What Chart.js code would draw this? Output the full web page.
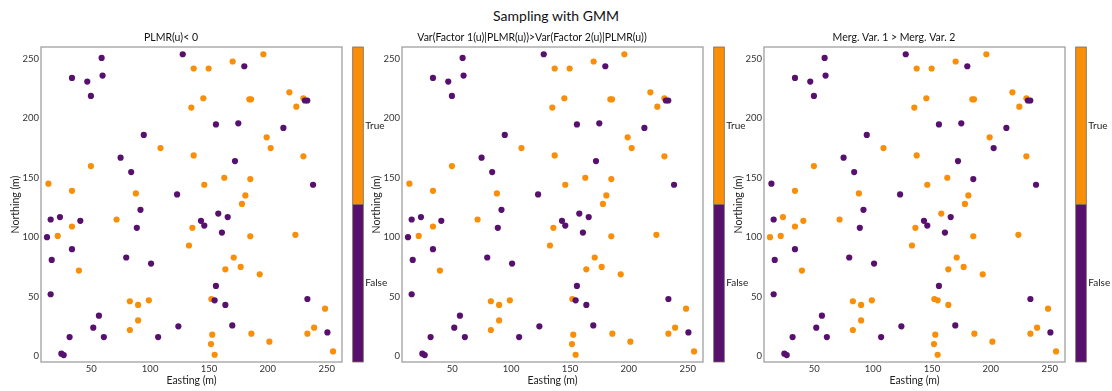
<!DOCTYPE html>
<html>
<head>
<meta charset="utf-8">
<script src="https://cdn.jsdelivr.net/npm/chart.js@4.4.0/dist/chart.umd.min.js"></script>
<style>
  html, body { margin: 0; padding: 0; background: #fff; overflow: hidden; }
  body { width: 1112px; height: 391px; position: relative; font-family: Lato, sans-serif; }
  #suptitle { position: absolute; left: 0; width: 1112px; top: 7px; text-align: center; font-size: 14px; color: #111; }
  canvas { position: absolute; top: 0; }
</style>
</head>
<body>
<div id="suptitle">Sampling with GMM</div>
<canvas id="p1" width="390" height="391" style="left:0px"></canvas>
<canvas id="p2" width="390" height="391" style="left:361px"></canvas>
<canvas id="p3" width="390" height="391" style="left:723px"></canvas>
<script>
const eastings = [58.8, 127.7, 137, 33.6, 46.6, 59.6, 49.7, 135, 145.2, 94.6,
  108.8, 137, 74.9, 49.7, 83.9, 13.6, 33.6, 87.9, 122.9, 146,
  91.8, 15.5, 23.4, 40.7, 33.6, 71.5, 88.7, 143.2, 146, 135.9,
  133, 12.4, 21.5, 33.6, 16.4, 79.7, 100.8, 39.5, 15.5, 82.8,
  89.8, 98.9, 56.5, 51.7, 89.8, 82.8, 124, 31.6, 60.7, 106.8,
  24.6, 26.6, 196.2, 170.1, 180, 149.7, 218.3, 230.2, 231.5, 233.5,
  184.3, 185.7, 224.2, 155.9, 174.9, 213.2, 199, 202.4, 230.2, 172.1,
  163, 185.1, 238.4, 180.9, 178, 157.9, 165.9, 161, 185.1, 223.4,
  171, 163.9, 176.9, 193.1, 155.9, 152, 154.8, 163.9, 233.6, 248.6,
  169.8, 239.3, 152.8, 186, 233.6, 250.6, 151.7, 201.3, 154.8, 255.4]
const northings = [250.8, 253.9, 241.9, 234, 230.9, 236, 218.8, 209, 216.9, 186,
  175, 168.8, 166.9, 159.8, 154.8, 145, 139, 136.8, 136, 144.1,
  123, 114.9, 116.9, 113.8, 109, 114.9, 107.9, 113.8, 109.8, 107.9,
  93, 100, 101.1, 89.9, 80.9, 82.9, 77.8, 71.9, 52, 46.1,
  43, 46.9, 34, 23.9, 30, 21.9, 25, 16, 16, 16,
  2, 0.8, 253.9, 247.8, 243.8, 241.9, 221.9, 216.9, 215, 215,
  216, 216, 209.8, 194.9, 195.8, 191.9, 184, 175, 168, 164,
  150, 148.9, 144.1, 135.1, 128, 119.9, 116.9, 103.9, 100.8, 102,
  82.9, 73, 75, 68.8, 59, 48, 46.9, 43, 48, 39.9,
  25.8, 23.9, 18, 18.8, 18.8, 19.9, 10.1, 12.1, 1.1, 3.9]

// 1 = True, 0 = False
const plmrNeg = [0, 0, 1, 0, 0, 0, 0, 1, 1, 0,
  1, 1, 0, 1, 0, 1, 1, 1, 0, 1,
  0, 0, 0, 0, 1, 1, 0, 0, 0, 1,
  1, 0, 1, 0, 0, 0, 0, 1, 0, 1,
  1, 1, 0, 0, 1, 1, 0, 0, 0, 0,
  0, 0, 1, 1, 0, 1, 1, 1, 0, 0,
  1, 1, 1, 0, 0, 0, 1, 1, 1, 0,
  1, 1, 0, 1, 1, 0, 0, 0, 1, 1,
  1, 1, 1, 1, 0, 1, 0, 0, 0, 1,
  0, 1, 1, 1, 1, 0, 1, 1, 1, 1]
const varFactor = [0, 0, 1, 0, 0, 0, 0, 1, 1, 0,
  1, 1, 0, 1, 0, 1, 1, 1, 0, 1,
  0, 0, 0, 0, 1, 1, 0, 0, 0, 1,
  1, 0, 1, 0, 0, 0, 0, 1, 0, 1,
  1, 1, 0, 0, 1, 1, 0, 0, 0, 0,
  0, 0, 1, 1, 0, 1, 1, 1, 0, 0,
  1, 1, 1, 0, 0, 0, 1, 1, 1, 0,
  1, 1, 0, 1, 1, 0, 0, 0, 1, 1,
  1, 1, 1, 1, 0, 1, 0, 0, 0, 1,
  0, 1, 1, 1, 1, 0, 1, 1, 1, 1]
const mergVar = [0, 0, 1, 0, 0, 0, 0, 1, 1, 0,
  1, 1, 0, 1, 0, 0, 1, 1, 0, 1,
  0, 0, 1, 1, 1, 1, 0, 0, 0, 1,
  1, 1, 1, 0, 0, 0, 0, 1, 0, 1,
  1, 1, 0, 0, 1, 1, 0, 0, 0, 0,
  0, 0, 1, 1, 0, 1, 1, 1, 0, 0,
  1, 1, 1, 0, 0, 0, 1, 0, 1, 0,
  1, 0, 0, 1, 1, 1, 0, 0, 1, 1,
  1, 1, 1, 1, 0, 1, 1, 1, 0, 1,
  0, 1, 1, 1, 1, 0, 1, 1, 1, 1]

const xTicks = [50, 100, 150, 200, 250]
const yTicks = [0, 50, 100, 150, 200, 250]
const classLabels = ["False", "True"]

const PURPLE = "#57106e"
const ORANGE = "#f98e09"
const FONT = "Lato, sans-serif"

// frame + two-colour colorbar on the right
const framePlugin = {
  id: "frame",
  afterDraw(chart) {
    const { ctx, chartArea: a } = chart
    ctx.save()
    ctx.strokeStyle = "#a0a0a0"
    ctx.lineWidth = 1.3
    ctx.strokeRect(a.left, a.top, a.right - a.left, a.bottom - a.top)

    const x = a.right + 10.7, w = 10.6
    const mid = (a.top + a.bottom) / 2
    ctx.fillStyle = ORANGE
    ctx.fillRect(x, a.top, w, mid - a.top)
    ctx.fillStyle = PURPLE
    ctx.fillRect(x, mid, w, a.bottom - mid)
    ctx.strokeStyle = "#7a6a5a"
    ctx.lineWidth = 0.8
    ctx.strokeRect(x, a.top, w, a.bottom - a.top)
    ctx.beginPath()
    ctx.moveTo(x, mid); ctx.lineTo(x + w, mid); ctx.stroke()

    ctx.fillStyle = "#222"
    ctx.font = "10px " + FONT
    ctx.textAlign = "left"
    ctx.textBaseline = "middle"
    ctx.fillText(classLabels[1], x + w + 2, a.top + (mid - a.top) / 2)
    ctx.fillText(classLabels[0], x + w + 2, mid + (a.bottom - mid) / 2)
    ctx.restore()
  }
}

function makePanel(id, title, classes) {
  const points = eastings.map((x, i) => ({ x: x, y: northings[i] }))
  new Chart(document.getElementById(id), {
    type: "scatter",
    data: {
      datasets: [{
        data: points,
        pointBackgroundColor: classes.map(c => c ? ORANGE : PURPLE),
        pointBorderWidth: 0,
        pointRadius: 3.1
      }]
    },
    options: {
      responsive: false,
      animation: false,
      layout: { padding: { left: 0, right: 48, top: 0, bottom: 0 } },
      plugins: {
        legend: { display: false },
        tooltip: { enabled: false },
        title: {
          display: true,
          text: title,
          color: "#111",
          font: { family: FONT, size: 10.5, weight: "normal" },
          padding: { top: 31.5, bottom: 2.9 }
        }
      },
      scales: {
        x: {
          type: "linear",
          min: 7.3,
          max: 263,
          grid: { display: false, drawTicks: false },
          border: { display: false },
          afterBuildTicks: s => { s.ticks = xTicks.map(v => ({ value: v })) },
          afterFit: s => { s.height = 29 },
          ticks: { color: "#333", font: { family: FONT, size: 9.5 }, padding: 1.5, maxRotation: 0 },
          title: {
            display: true,
            text: "Easting (m)",
            color: "#222",
            font: { family: FONT, size: 10.5 },
            padding: { top: 0, bottom: 3.7 }
          }
        },
        y: {
          type: "linear",
          min: -5,
          max: 260,
          grid: { display: false, drawTicks: false },
          border: { display: false },
          afterBuildTicks: s => { s.ticks = yTicks.map(v => ({ value: v })) },
          afterFit: s => { s.width = 41 },
          ticks: { color: "#333", font: { family: FONT, size: 9.5 }, padding: 2 },
          title: {
            display: true,
            text: "Northing (m)",
            color: "#222",
            font: { family: FONT, size: 10.5 },
            padding: { top: 9.7, bottom: 0 }
          }
        }
      }
    },
    plugins: [framePlugin]
  })
}

makePanel("p1", "PLMR(u)< 0", plmrNeg)
makePanel("p2", "Var(Factor 1(u)|PLMR(u))>Var(Factor 2(u)|PLMR(u))", varFactor)
makePanel("p3", "Merg. Var. 1 > Merg. Var. 2", mergVar)
</script>
</body>
</html>
